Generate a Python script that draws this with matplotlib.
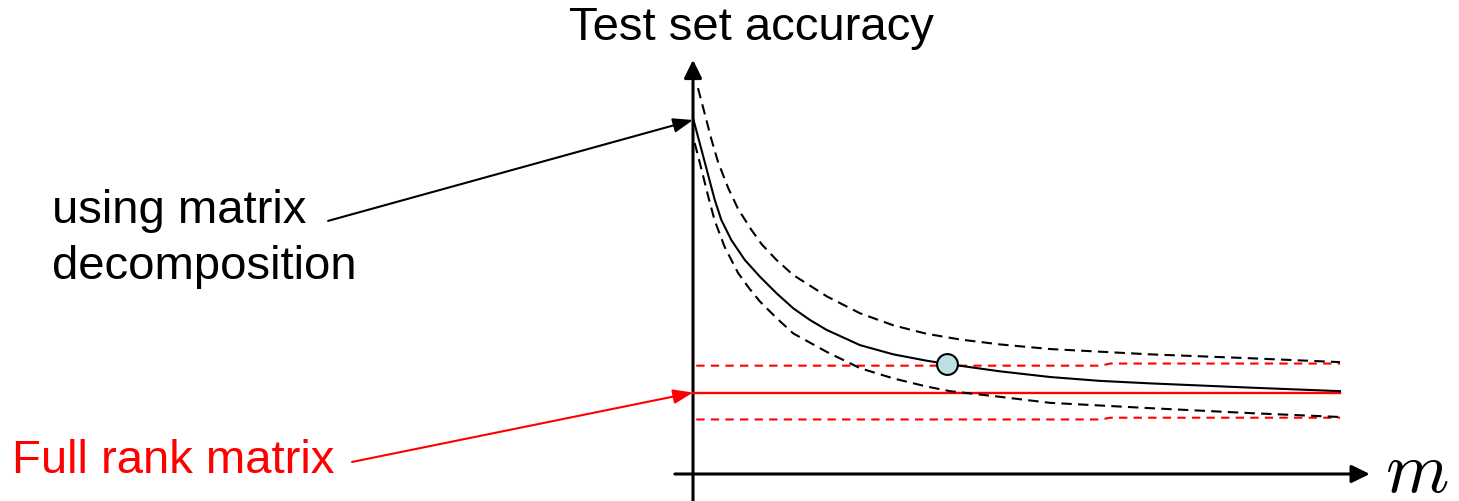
import matplotlib.pyplot as plt
from matplotlib.patches import FancyArrowPatch

plt.rcParams['font.family'] = ['Liberation Sans', 'DejaVu Sans']
plt.rcParams['mathtext.fontset'] = 'cm'

# accuracy vs m using matrix decomposition (mean and spread)
m_mean = [0, 0.62, 1.28, 2.32, 3.35, 4.37, 5.92, 7.99, 10.36, 12.94, 15.5,
          18.08, 20.66, 25.81, 30.96, 36.12, 39.21, 47.45, 55.18, 62.91,
          70.63, 86.09, 100]
acc_mean = [100.6, 96.3, 91.8, 84.6, 77.5, 71.8, 66.1, 60.5, 55.7, 51.0,
            46.8, 43.5, 40.7, 36.4, 33.8, 32.0, 31.1, 29.0, 27.4, 26.3,
            25.6, 24.4, 23.4]

m_upper = [0.77, 1.81, 2.83, 3.86, 5.41, 6.96, 9.01, 10.66, 12.94, 15.5,
           20.66, 25.81, 30.96, 36.12, 41.27, 47.45, 55.18, 70.63, 86.09, 100]
acc_upper = [109.0, 101.8, 94.6, 88.2, 80.9, 74.9, 69.0, 64.8, 60.4, 56.2,
             50.2, 45.4, 42.0, 39.6, 38.0, 36.6, 35.3, 33.8, 32.7, 31.6]

m_lower = [0.26, 1.04, 1.55, 2.32, 3.35, 4.9, 6.96, 8.66, 10.36, 12.94, 15.5,
           20.66, 25.81, 30.96, 36.12, 39.72, 47.45, 55.18, 70.63, 86.09, 100]
acc_lower = [93.5, 88.0, 84.3, 78.6, 71.6, 64.1, 56.8, 52.5, 48.7, 44.0,
             39.7, 34.5, 29.9, 27.0, 24.7, 23.4, 21.8, 20.1, 18.6, 17.2, 16.1]

# full rank matrix baseline and its band
m_full = [0, 100]
acc_full = [23.0, 23.0]
m_band = [0.5, 63, 64.5, 100]
band_hi = [30.6, 30.6, 31.2, 31.2]
band_lo = [15.4, 15.4, 15.9, 15.9]

# crossing point
m_cross = 39.2
acc_cross = 31.1

fig = plt.figure(figsize=(14.59, 5.01), dpi=100)
ax = fig.add_axes([0, 0, 1, 1])
ax.set_xlim(-107.11, 118.39)
ax.set_ylim(-7.63, 133.90)
ax.axis('off')

# axes with arrow heads
for start, end in [((0, -7.6), (0, 117.0)), ((-2.8, 0), (104.6, 0))]:
    ax.add_patch(FancyArrowPatch(start, end,
                                 arrowstyle='-|>,head_length=0.55,head_width=0.27',
                                 mutation_scale=20, color='black', lw=2.2,
                                 shrinkA=0, shrinkB=0))

ax.plot(m_band, band_hi, color='red', lw=1.5, dashes=(4, 3))
ax.plot(m_band, band_lo, color='red', lw=1.5, dashes=(4, 3))
ax.plot(m_full, acc_full, color='red', lw=1.7)

ax.plot(m_upper, acc_upper, color='black', lw=1.5, dashes=(5, 3))
ax.plot(m_lower, acc_lower, color='black', lw=1.5, dashes=(5, 3))
ax.plot(m_mean, acc_mean, color='black', lw=1.5)

ax.plot([m_cross], [acc_cross], 'o', ms=15, mfc='#bde0e3', mec='black',
        mew=1.5, zorder=5)

ax.text(9.1, 122.6, 'Test set accuracy', fontsize=34, ha='center',
        va='baseline')
ax.text(107.0, -5.0, '$m$', fontsize=52, ha='left', va='baseline')

ax.text(-99.1, 70.9, 'using matrix', fontsize=34, ha='left', va='baseline')
ax.text(-99.1, 55.1, 'decomposition', fontsize=34, ha='left', va='baseline')
ax.annotate('', xy=(0, acc_mean[0] - 0.6), xytext=(-56.4, 71.5),
            arrowprops=dict(arrowstyle='-|>,head_length=0.6,head_width=0.22',
                            mutation_scale=20, color='black', lw=1.5,
                            shrinkA=0, shrinkB=0))

ax.text(-105.3, 0.2, 'Full rank matrix', fontsize=34, color='red',
        ha='left', va='baseline')
ax.annotate('', xy=(0, acc_full[0]), xytext=(-52.7, 3.4),
            arrowprops=dict(arrowstyle='-|>,head_length=0.6,head_width=0.22',
                            mutation_scale=20, color='red', lw=1.5,
                            shrinkA=0, shrinkB=0))

fig.savefig('out.png', dpi=100)
